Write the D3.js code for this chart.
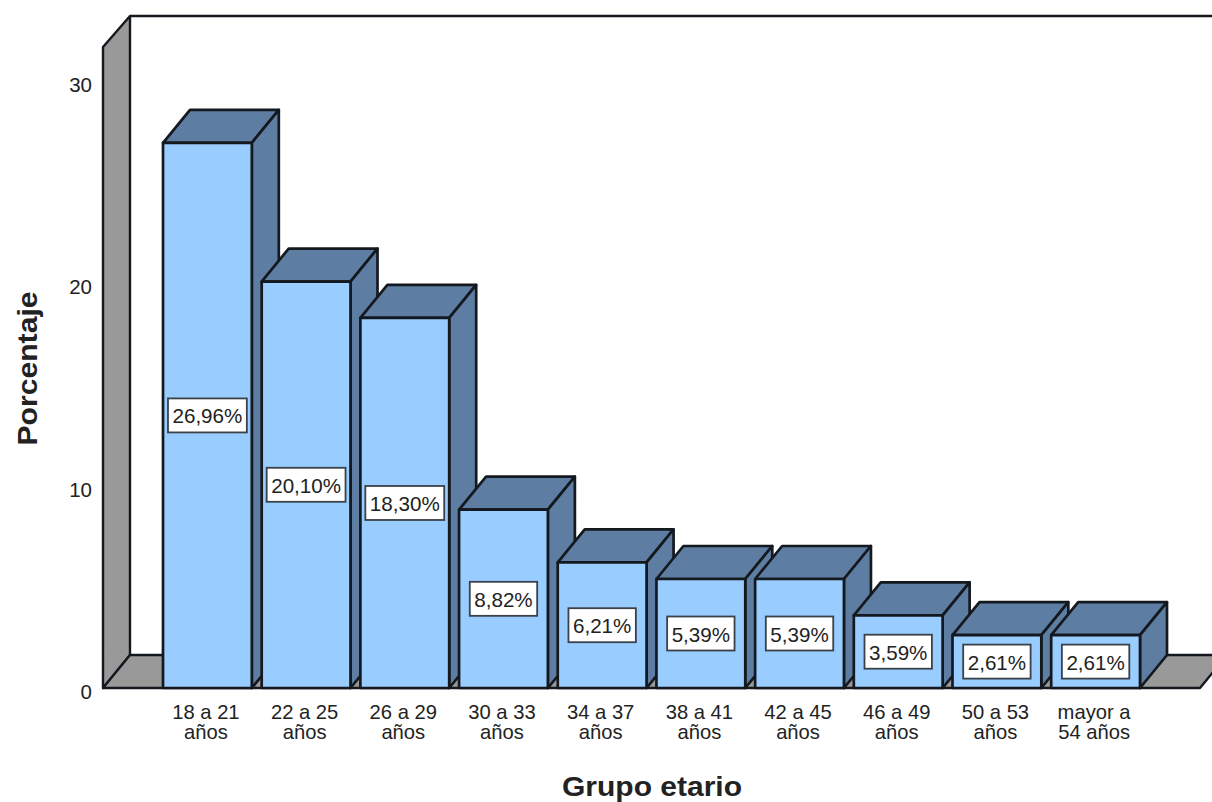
<!DOCTYPE html>
<html>
<head>
<meta charset="utf-8">
<script src="https://cdn.jsdelivr.net/npm/d3@7"></script>
<style>
html,body{margin:0;padding:0;background:#fff;overflow:hidden}
svg{display:block}
text{font-family:"Liberation Sans",Arial,sans-serif;fill:#222}
</style>
</head>
<body>
<svg id="chart" width="1212" height="802"></svg>
<script>
const categories = ["18 a 21 años","22 a 25 años","26 a 29 años","30 a 33 años","34 a 37 años","38 a 41 años","42 a 45 años","46 a 49 años","50 a 53 años","mayor a 54 años"];
const categoryLines = [["18 a 21","años"],["22 a 25","años"],["26 a 29","años"],["30 a 33","años"],["34 a 37","años"],["38 a 41","años"],["42 a 45","años"],["46 a 49","años"],["50 a 53","años"],["mayor a","54 años"]];
const percentages = [26.96,20.10,18.30,8.82,6.21,5.39,5.39,3.59,2.61,2.61];
const yTicks = [0,10,20,30];
const xTitle = "Grupo etario";
const yTitle = "Porcentaje";

const svg = d3.select("#chart");
const DX = 27, DY = 33;          // oblique depth of the 3D box
const INK = "#14191f";
const FRONT = "#99ccff", SHADE = "#5d7ea2", WALL = "#999999";

const y = d3.scaleLinear().domain([0,31.7]).range([688,47]);
const x = d3.scaleBand().domain(categories).range([163,1140]).paddingInner(0.1).paddingOuter(0);
const poly = pts => pts.map(p => p.join(",")).join(" ");

// Side wall, floor and back edges
const y0 = y(0), yMax = y(31.7), wallL = 103, floorR = 1200;
const room = svg.append("g").attr("stroke",INK).attr("stroke-width",2.4).attr("stroke-linejoin","round");
room.append("polygon").attr("fill",WALL)
  .attr("points",poly([[wallL,y0],[wallL,yMax],[wallL+DX,yMax-DY+2],[wallL+DX,y0-DY]]));
room.append("polygon").attr("fill",WALL)
  .attr("points",poly([[wallL,y0],[wallL+DX,y0-DY],[floorR+DX,y0-DY],[floorR,y0]]));
room.append("line").attr("x1",wallL+DX).attr("x2",1212).attr("y1",yMax-DY+2).attr("y2",yMax-DY+2);

// Bars, painted left to right so each one overlaps its neighbour's side face
const bars = svg.append("g").selectAll("g").data(percentages).join("g")
  .attr("stroke",INK).attr("stroke-width",2.7).attr("stroke-linejoin","round");
bars.append("polygon").attr("fill",SHADE).attr("points",(d,i)=>{
  const l=x(categories[i]), r=l+x.bandwidth(), t=y(d);
  return poly([[l,t],[l+DX,t-DY],[r+DX,t-DY],[r,t]]);
});
bars.append("polygon").attr("fill",SHADE).attr("points",(d,i)=>{
  const r=x(categories[i])+x.bandwidth(), t=y(d);
  return poly([[r,t],[r+DX,t-DY],[r+DX,y0-DY],[r,y0]]);
});
bars.append("rect").attr("fill",FRONT)
  .attr("x",(d,i)=>x(categories[i])).attr("width",x.bandwidth())
  .attr("y",d=>y(d)).attr("height",d=>y0-y(d));

// Value labels in boxes at the middle of each bar; each box hugs its text
const fmt = d => d.toFixed(2).replace(".",",") + "%";
const labels = svg.append("g").selectAll("g").data(percentages).join("g")
  .attr("transform",(d,i)=>`translate(${x(categories[i])+x.bandwidth()/2},${y(d/2)})`);
const boxes = labels.append("rect").attr("y",-17).attr("height",34)
  .attr("fill","#fff").attr("stroke","#3a4148").attr("stroke-width",1.8);
const valueText = labels.append("text").attr("text-anchor","middle").attr("y",8)
  .attr("font-size",20.6).text(fmt);
valueText.each(function(d,i){
  const w = this.getComputedTextLength() + 9;
  d3.select(boxes.nodes()[i]).attr("x",-w/2).attr("width",w);
});

// Y axis: labels only
const yAxis = svg.append("g").attr("transform","translate(92,0)")
  .call(d3.axisLeft(y).tickValues(yTicks).tickSize(0).tickPadding(0));
yAxis.select(".domain").remove();
yAxis.selectAll("text").style("font-family",'"Liberation Sans",Arial,sans-serif')
  .style("fill","#222").attr("font-size",20.5).attr("dy","0.5em");

// Category labels on two lines
const cats = svg.append("g").selectAll("text").data(categoryLines).join("text")
  .attr("text-anchor","middle").attr("font-size",20.2)
  .attr("transform",(d,i)=>`translate(${x(categories[i])+x.bandwidth()/2-1.5},719)`);
cats.selectAll("tspan").data(d=>d).join("tspan")
  .attr("x",0).attr("dy",(d,i)=>i?19.5:0).text(d=>d);

// Axis titles
svg.append("text").attr("x",652).attr("y",796).attr("text-anchor","middle")
  .attr("font-size",28).attr("font-weight","bold")
  .attr("textLength",180).attr("lengthAdjust","spacingAndGlyphs").text(xTitle);
svg.append("text").attr("transform","translate(37,368.5) rotate(-90)").attr("text-anchor","middle")
  .attr("font-size",28).attr("font-weight","bold")
  .attr("textLength",154).attr("lengthAdjust","spacingAndGlyphs").text(yTitle);
</script>
</body>
</html>
